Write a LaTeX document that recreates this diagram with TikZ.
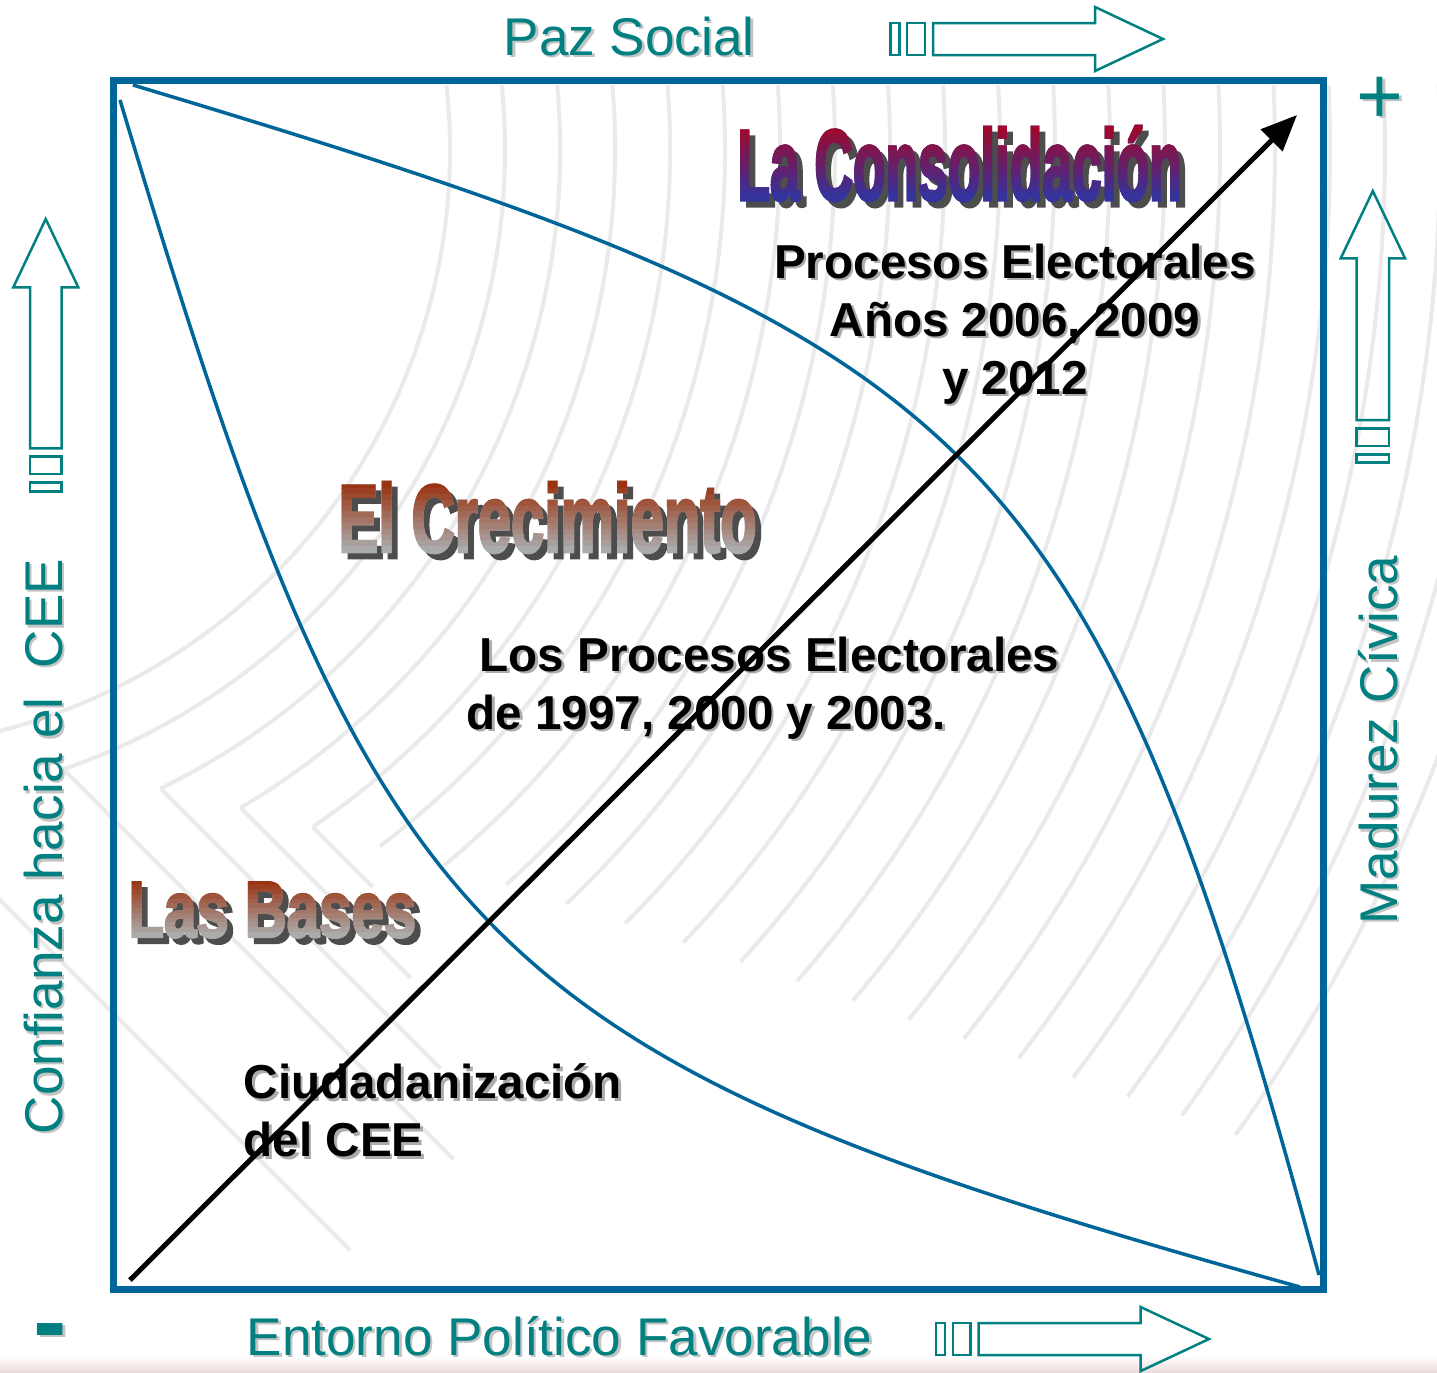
\documentclass[tikz,border=0pt]{standalone}
\usepackage{fontspec}
\setmainfont{Liberation Sans}
\newfontfamily\wordartfont{Liberation Sans}[BoldFeatures={FakeBold=3}]
\usetikzlibrary{arrows.meta}

\definecolor{cteal}{HTML}{008080}
\definecolor{cframe}{HTML}{006699}
\definecolor{tealshadow}{HTML}{C4C4C4}
\definecolor{inkshadow}{HTML}{ABABAB}
\definecolor{wordshadow}{HTML}{4D4D4D}
\definecolor{bgline}{HTML}{EAEAEA}
\definecolor{pinkband}{HTML}{EBDCDC}
\definecolor{consTop}{HTML}{A0082A}
\definecolor{consBot}{HTML}{35339C}
\definecolor{rustTop}{HTML}{993311}
\definecolor{greyBot}{HTML}{ABABAB}

\tikzset{
  every node/.style={inner sep=0pt},
  axislabel/.style={font=\fontsize{15.1}{18}\selectfont, text=cteal},
  stagetext/.style={font=\bfseries\fontsize{13.54}{16.5}\selectfont},
  conslook/.style={font=\wordartfont\bfseries\fontsize{28.6}{30}\selectfont, xscale=0.53, transform shape},
  crecelook/.style={font=\wordartfont\bfseries\fontsize{27.4}{30}\selectfont, xscale=0.62, transform shape},
  baselook/.style={font=\wordartfont\bfseries\fontsize{22.65}{26}\selectfont, xscale=0.73, transform shape},
  hollowarrow/.style={draw=cteal, line width=0.025cm, line join=miter},
  frame/.style={draw=cframe, line width=0.07cm},
  stagecurve/.style={draw=cframe, line width=0.035cm},
  progress/.style={draw=black, line width=0.05cm, -{Triangle[length=0.36cm,width=0.3cm]}},
  bgarc/.style={draw=bgline, line width=0.04cm},
}

% name, style, position, text, shadow colour
\newcommand{\shadowed}[5]{%
  \node[#2, text=#5] (#1-sh) at ([shift={(2.5,2.5)}]#3) {#4};
  \node[#2] (#1) at (#3) {#4};}

% name, position, look, cap top, baseline, top colour, bottom colour, text
\newcommand{\wordart}[8]{%
  \node[#3, anchor=base west, text=wordshadow] (#1-sh) at ([shift={(6,6)}]#2) {#8};
  \node[#3, anchor=base west, text=#7] (#1) at (#2) {#8};
  \foreach \i in {0,...,11}{%
    \pgfmathsetmacro\ya{#4+(#5-#4)*\i/12-(\i==0)*60}
    \pgfmathsetmacro\yb{#4+(#5-#4)*(\i+1)/12}
    \pgfmathtruncatemacro\pc{100-100*\i/11}
    \begin{scope}
      \clip (0,\ya) rectangle (1437,\yb);
      \node[#3, anchor=base west, text=#6!\pc!#7] (#1-\i) at (#2) {#8};
    \end{scope}}}

\begin{document}
\begin{tikzpicture}[x=0.01cm, y=-0.01cm]
\useasboundingbox (0,0) rectangle (1437,1372);
\fill[white] (0,0) rectangle (1437,1372);
\begin{scope}
  \clip (0,85) rectangle (1437,1372);
  \foreach \r in {600,655,...,1700}{
    \pgfmathsetmacro\ea{asin(min(1,(600+0.35*(\r-600))/\r))}
    \pgfmathsetmacro\dl{max(0,850-\r)*2}
    \draw[bgarc] ([shift={(-150,150)}]\ea:\r) arc[start angle=\ea, end angle=-25, radius=\r];
    \draw[bgarc] ([shift={(-150,150)}]\ea:\r) -- ++(\dl,\dl);
  }
\end{scope}
\shade[top color=white, bottom color=pinkband] (0,1356) rectangle (1437,1372);

\draw[frame] (113.5,80) rectangle (1323,1289.5);

\coordinate (upperA) at (133,85);
\coordinate (upperB) at (1319,1275);
\coordinate (lowerA) at (120,100);
\coordinate (lowerB) at (1300,1287);
\draw[stagecurve] (upperA) .. controls (983,340) and (1089,425) .. (upperB);
\draw[stagecurve] (lowerA) .. controls (375,950) and (465,1055) .. (lowerB);

\wordart{consolidacion}{737,200}{conslook}{126}{200}{consTop}{consBot}{La Consolidación}
\wordart{crecimiento}{338,552}{crecelook}{483}{552}{rustTop}{greyBot}{El Crecimiento}
\wordart{bases}{128,937}{baselook}{880}{937}{rustTop}{greyBot}{Las Bases}

\shadowed{electoral3}{stagetext, align=center, anchor=north}{1015,243}{Procesos Electorales\\Años 2006, 2009\\y 2012}{inkshadow}
\shadowed{electoral2}{stagetext, align=left, anchor=north west}{466,636}{\hspace*{0.13cm}Los Procesos Electorales\\de 1997, 2000 y 2003.}{inkshadow}
\shadowed{ciudadana}{stagetext, align=left, anchor=north west}{243,1063}{Ciudadanización\\del CEE}{inkshadow}

\coordinate (origin) at (130,1280);
\coordinate (apex) at (1297,115);
\draw[progress] (origin) -- (apex);

\shadowed{pazsocial}{axislabel, anchor=base west}{503,55}{Paz Social}{tealshadow}
\shadowed{entorno}{axislabel, anchor=base west}{246,1355}{Entorno Político Favorable}{tealshadow}
\shadowed{confianza}{axislabel, anchor=base west, rotate=90}{62,1135}{Confianza hacia el\ \ CEE}{tealshadow}
\shadowed{madurez}{axislabel, anchor=base west, rotate=90}{1397,925}{Madurez Cívica}{tealshadow}
\shadowed{plus}{font=\fontsize{22.8}{24}\selectfont, text=cteal, anchor=base}{1380,123}{+}{tealshadow}
\shadowed{minus}{font=\bfseries\fontsize{28.5}{30}\selectfont, text=cteal, anchor=base west}{33,1355}{-}{tealshadow}

\draw[hollowarrow] (933,23) -- (1095,23) -- (1095,7) -- (1163,39) -- (1095,71) -- (1095,55) -- (933,55) -- cycle;
\draw[hollowarrow] (890.7,23) rectangle (899.3,55) (907,23) rectangle (925,55);
\draw[hollowarrow] (978.7,1323) -- (1140.7,1323) -- (1140.7,1307) -- (1209,1339) -- (1140.7,1371) -- (1140.7,1355) -- (978.7,1355) -- cycle;
\draw[hollowarrow] (936,1323) rectangle (945,1355) (953,1323) rectangle (970.7,1355);
\draw[hollowarrow] (30,448.3) -- (30,287.3) -- (13.3,287.3) -- (45.7,219) -- (78.3,287.3) -- (61.7,287.3) -- (61.7,448.3) -- cycle;
\draw[hollowarrow] (30,456.7) rectangle (61.7,474) (30,482.7) rectangle (61.7,491.7);
\draw[hollowarrow] (1356.7,420) -- (1356.7,258.3) -- (1340.7,258.3) -- (1372.8,191) -- (1405,258.3) -- (1389,258.3) -- (1389,420) -- cycle;
\draw[hollowarrow] (1356.7,428.3) rectangle (1389,446) (1356.7,454.3) rectangle (1389,462.7);
\end{tikzpicture}
\end{document}
